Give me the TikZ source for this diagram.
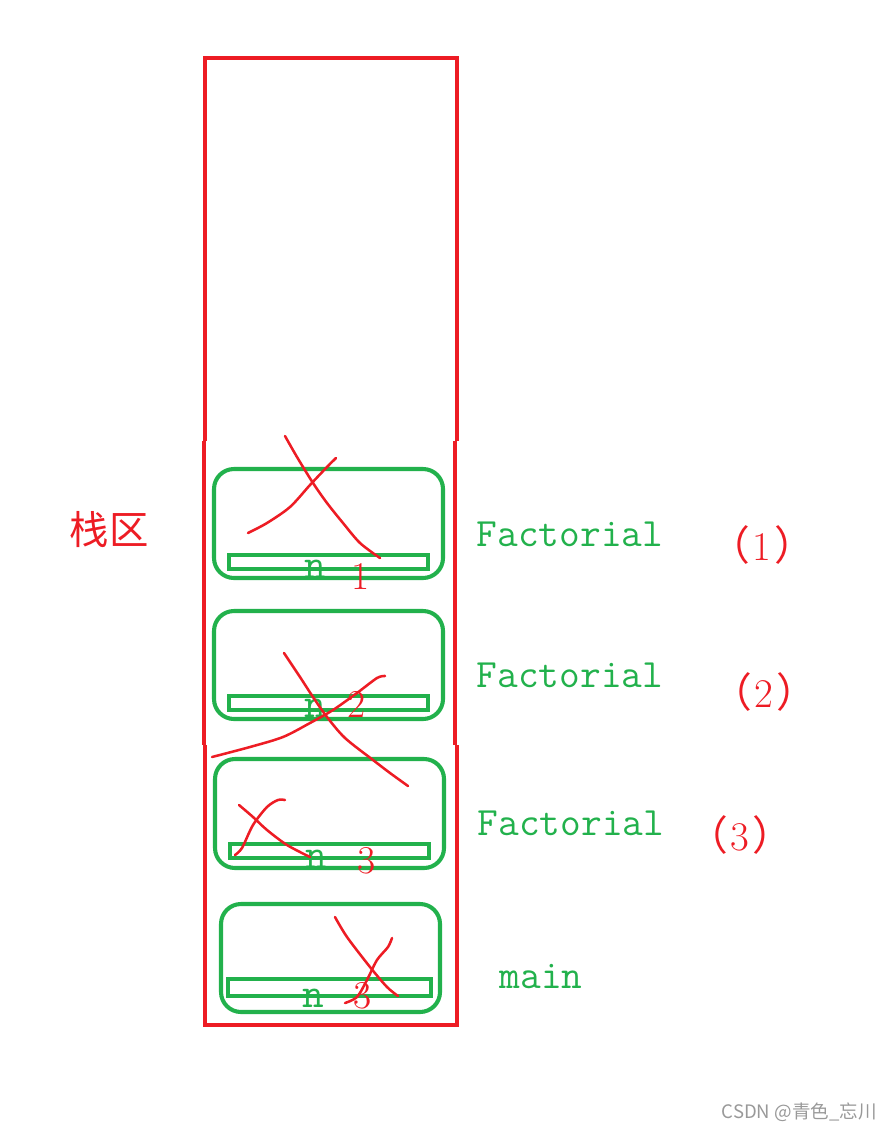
\documentclass[tikz,border=0pt]{standalone}
\usepackage{fontspec}
\newfontfamily\cjk{Noto Sans CJK SC}
\definecolor{paintred}{HTML}{ED1C24}
\definecolor{paintgreen}{HTML}{22B14C}
\tikzset{
  stack/.style={draw=paintred,line width=2.9pt},
  frame/.style={draw=paintgreen,line width=2.9pt,rounded corners=0.5cm},
  slot/.style={draw=paintgreen,line width=2.9pt},
  scrawl/.style={draw=paintred,line width=1.8pt,line cap=round,line join=round},
  fname/.style={text=paintgreen,font=\fontsize{28.6}{30}\ttfamily,inner sep=0pt,anchor=base},
  var/.style={text=paintgreen,font=\fontsize{30}{32}\ttfamily,inner sep=0pt,anchor=base},
  val/.style={text=paintred,font=\fontsize{28}{30}\rmfamily,inner sep=0pt,anchor=base},
  num/.style={text=paintred,font=\fontsize{29}{30}\rmfamily,inner sep=0pt}
}
\begin{document}
\begin{tikzpicture}[x=0.025cm,y=-0.025cm]
\useasboundingbox (0,0) rectangle (891,1131);

% stack area
\draw[stack] (205,441) -- (205,58) -- (457,58) -- (457,441);
\draw[stack] (204,441) -- (204,745);
\draw[stack] (455,441) -- (455,745);
\draw[stack] (205,745) -- (205,1025) -- (457,1025) -- (457,745);
\node[text=paintred,font=\fontsize{28}{30}\cjk,inner sep=0pt] (area) at (109,530) {栈区};

% frames
\draw[frame] (214,469) rectangle (443,578);
\draw[slot] (229,555) rectangle (428,569);
\draw[frame] (214,611) rectangle (443,719);
\draw[slot] (229,696) rectangle (428,710);
\draw[frame] (215,759) rectangle (444,868);
\draw[slot] (230,844) rectangle (429,858);
\draw[frame] (221,904) rectangle (440,1012);
\draw[slot] (228,979) rectangle (431,996);

\node[var] (n1) at (315,578) {n};
\node[val] (v1) at (361,589) {1};
\node[var] (n2) at (315,717) {n};
\node[val] (v2) at (357,717) {2};
\node[var] (n3) at (316,868) {n};
\node[val] (v3) at (367,873) {3};
\node[var] (n4) at (313,1007) {n};
\node[val] (v4) at (363,1008) {3};

\node[fname] (fact1) at (570,546) {Factorial};
\node[fname] (fact2) at (570,687) {Factorial};
\node[fname] (fact3) at (571,835) {Factorial};
\node[fname] (main) at (541,988) {main};

\node[num] (c1) at (762,545) {{\cjk （}\kern2pt 1\kern2pt{\cjk ）}};
\node[num] (c2) at (764,692) {{\cjk （}\kern2pt 2\kern2pt{\cjk ）}};
\node[num] (c3) at (740,835) {{\cjk （}\kern2pt 3\kern2pt{\cjk ）}};

% crossed out
\draw[scrawl] plot[smooth] coordinates {(285,436) (297,457) (313,483) (327,503) (343,523) (360,543) (380,558)};
\draw[scrawl] plot[smooth] coordinates {(248,533) (267,523) (290,507) (310,485) (327,467) (336,458)};
\draw[scrawl] plot[smooth] coordinates {(284,653) (300,677) (313,697) (327,717) (345,738) (373,760) (390,773) (408,786)};
\draw[scrawl] plot[smooth] coordinates {(212,757) (250,747) (283,737) (310,723) (333,710) (357,693) (377,678) (385,676)};
\draw[scrawl] plot[smooth] coordinates {(239,805) (253,817) (267,830) (287,845) (310,857)};
\draw[scrawl] plot[smooth] coordinates {(235,855) (242,848) (253,825) (267,807) (278,800) (285,800)};
\draw[scrawl] plot[smooth] coordinates {(335,917) (347,937) (370,967) (387,987) (398,996)};
\draw[scrawl] plot[smooth] coordinates {(345,1003) (357,997) (367,980) (377,960) (388,947) (392,938)};

\node[text=black!40,font=\fontsize{13.2}{15}\cjk,inner sep=0pt,anchor=east] (mark) at (877,1112) {CSDN @青色\_忘川};
\end{tikzpicture}
\end{document}
